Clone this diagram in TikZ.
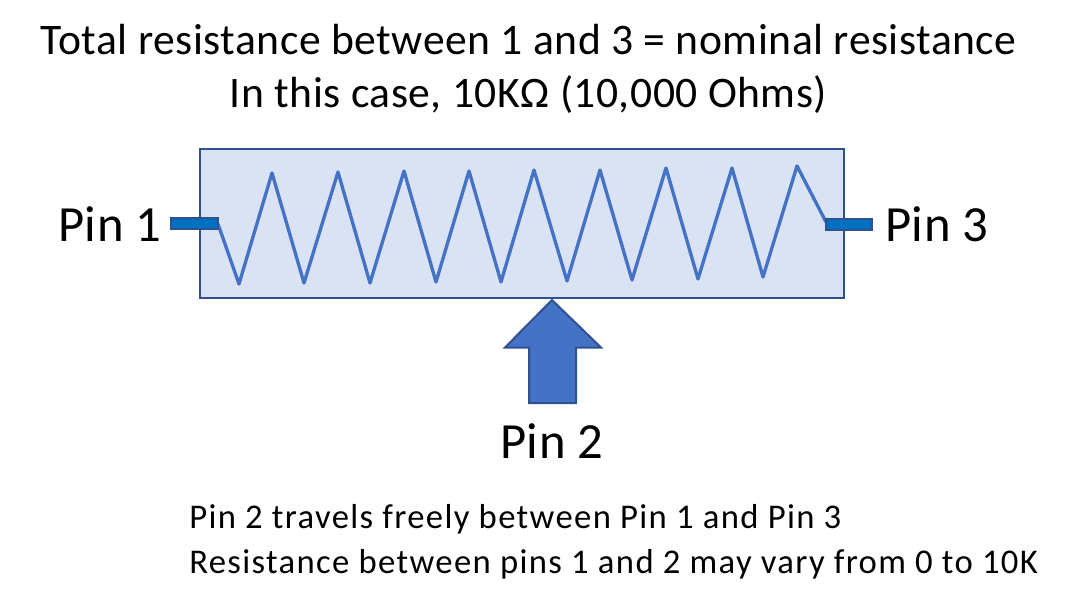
\documentclass[tikz,border=0pt]{standalone}
\usepackage{fontspec}
\setmainfont{Carlito}
\newfontfamily\titlefont[LetterSpace=1.2]{Carlito}
\newfontfamily\pinfont[LetterSpace=1.0]{Carlito}
\newfontfamily\notefont[LetterSpace=3.9]{Carlito}
\definecolor{edgeblue}{HTML}{2F528F}
\definecolor{fillblue}{HTML}{DAE3F3}
\definecolor{zigblue}{HTML}{4472C4}
\definecolor{pinblue}{HTML}{0070C0}
\tikzset{
  px/.style={x=0.75pt,y=-0.75pt},
  body/.style={draw=edgeblue,line width=1.5pt,fill=fillblue},
  zig/.style={draw=zigblue,line width=2.5pt,line join=round},
  pinbar/.style={draw=edgeblue,line width=1.5pt,fill=pinblue},
  bigarrow/.style={draw=edgeblue,line width=1.5pt,fill=zigblue,line join=miter},
  title/.style={inner sep=0pt,anchor=base,font=\titlefont\fontsize{32.7pt}{39pt}\selectfont},
  pinlabel/.style={inner sep=0pt,anchor=base west,font=\pinfont\fontsize{38pt}{46pt}\selectfont},
  note/.style={inner sep=0pt,anchor=base west,font=\notefont\fontsize{26pt}{31pt}\selectfont}
}
\begin{document}
\begin{tikzpicture}[px]
\useasboundingbox (0,0) rectangle (1091,598);
\path[body] (200,149) rectangle (844,298);
\draw[zig] (218,224) -- (239,284) -- (272,173) -- (304,283) -- (338,172) -- (370,283) -- (404,171) -- (436,282) -- (469,171) -- (501,282) -- (534,170) -- (567,281) -- (600,170) -- (632,280) -- (666,168) -- (698,279) -- (732,168) -- (763,277) -- (797,166) -- (826,222);
\path[pinbar] (171,218) rectangle (218,229);
\path[pinbar] (826,219) rectangle (872,230);
\path[bigarrow] (552,300) -- (601,347.5) -- (576,347.5) -- (576,403) -- (529,403) -- (529,347.5) -- (505,347.5) -- cycle;
\node[title] (t1) at (528.5,55) {Total resistance between 1 and 3 = nominal resistance};
\node[title] (t2) at (528.5,108) {In this case, 10KΩ (10,000 Ohms)};
\node[pinlabel] (p1) at (58,242) {Pin 1};
\node[pinlabel] (p3) at (885,242) {Pin 3};
\node[pinlabel] (p2) at (500,458) {Pin 2};
\node[note] (n1) at (189,528) {Pin 2 travels freely between Pin 1 and Pin 3};
\node[note] (n2) at (189,573) {Resistance between pins 1 and 2 may vary from 0 to 10K};
\end{tikzpicture}
\end{document}
